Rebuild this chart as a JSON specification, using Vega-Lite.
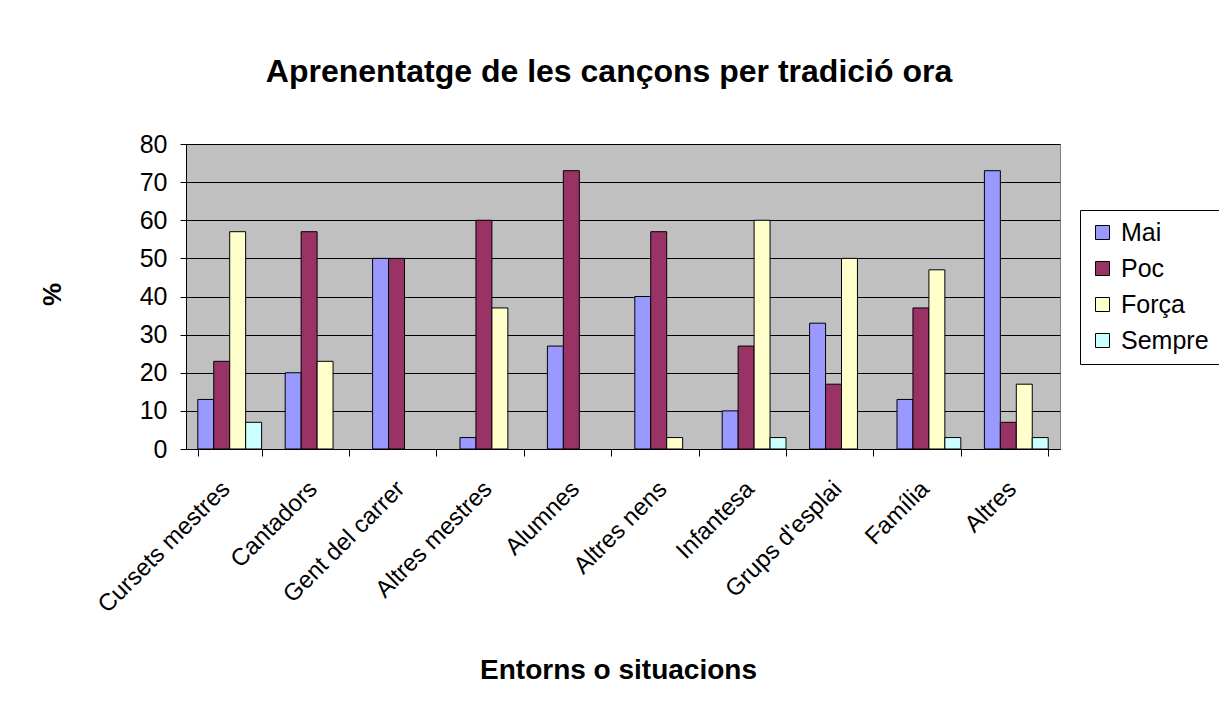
{
  "$schema": "https://vega.github.io/schema/vega-lite/v6.json",
  "autosize": "none",
  "width": 874,
  "height": 305,
  "padding": {"left": 186, "top": 144, "right": 159, "bottom": 260},
  "background": "white",
  "config": {
    "font": "Liberation Sans",
    "view": {"fill": "#C0C0C0", "stroke": "#808080", "strokeWidth": 1}
  },
  "title": {
    "text": "Aprenentatge de les cançons per tradició ora",
    "font": "Liberation Sans",
    "fontSize": 32,
    "fontWeight": "bold",
    "color": "black",
    "anchor": "middle",
    "baseline": "alphabetic",
    "offset": 18,
    "dx": -14
  },
  "data": {
    "values": [
      {"entorn": "Cursets mestres", "serie": "Mai", "valor": 13},
      {"entorn": "Cursets mestres", "serie": "Poc", "valor": 23},
      {"entorn": "Cursets mestres", "serie": "Força", "valor": 57},
      {"entorn": "Cursets mestres", "serie": "Sempre", "valor": 7},
      {"entorn": "Cantadors", "serie": "Mai", "valor": 20},
      {"entorn": "Cantadors", "serie": "Poc", "valor": 57},
      {"entorn": "Cantadors", "serie": "Força", "valor": 23},
      {"entorn": "Gent del carrer", "serie": "Mai", "valor": 50},
      {"entorn": "Gent del carrer", "serie": "Poc", "valor": 50},
      {"entorn": "Altres mestres", "serie": "Mai", "valor": 3},
      {"entorn": "Altres mestres", "serie": "Poc", "valor": 60},
      {"entorn": "Altres mestres", "serie": "Força", "valor": 37},
      {"entorn": "Alumnes", "serie": "Mai", "valor": 27},
      {"entorn": "Alumnes", "serie": "Poc", "valor": 73},
      {"entorn": "Altres nens", "serie": "Mai", "valor": 40},
      {"entorn": "Altres nens", "serie": "Poc", "valor": 57},
      {"entorn": "Altres nens", "serie": "Força", "valor": 3},
      {"entorn": "Infantesa", "serie": "Mai", "valor": 10},
      {"entorn": "Infantesa", "serie": "Poc", "valor": 27},
      {"entorn": "Infantesa", "serie": "Força", "valor": 60},
      {"entorn": "Infantesa", "serie": "Sempre", "valor": 3},
      {"entorn": "Grups d'esplai", "serie": "Mai", "valor": 33},
      {"entorn": "Grups d'esplai", "serie": "Poc", "valor": 17},
      {"entorn": "Grups d'esplai", "serie": "Força", "valor": 50},
      {"entorn": "Família", "serie": "Mai", "valor": 13},
      {"entorn": "Família", "serie": "Poc", "valor": 37},
      {"entorn": "Família", "serie": "Força", "valor": 47},
      {"entorn": "Família", "serie": "Sempre", "valor": 3},
      {"entorn": "Altres", "serie": "Mai", "valor": 73},
      {"entorn": "Altres", "serie": "Poc", "valor": 7},
      {"entorn": "Altres", "serie": "Força", "valor": 17},
      {"entorn": "Altres", "serie": "Sempre", "valor": 3}
    ]
  },
  "mark": {"type": "bar", "stroke": "black", "strokeWidth": 1},
  "encoding": {
    "x": {
      "field": "entorn",
      "type": "nominal",
      "sort": ["Cursets mestres", "Cantadors", "Gent del carrer", "Altres mestres", "Alumnes", "Altres nens", "Infantesa", "Grups d'esplai", "Família", "Altres"],
      "scale": {"paddingInner": 0.27, "paddingOuter": 0.135},
      "axis": {
        "title": "Entorns o situacions",
        "titleFont": "Liberation Sans",
        "titleFontSize": 28,
        "titleFontWeight": "bold",
        "titleColor": "black",
        "titleX": 432,
        "titleY": 221,
        "titleBaseline": "middle",
        "titleAnchor": null,
        "labelAngle": -45,
        "labelAlign": "right",
        "labelBaseline": "middle",
        "labelFontSize": 24,
        "labelColor": "black",
        "labelPadding": 29,
        "labelOffset": -4,
        "tickBand": "extent",
        "tickColor": "black",
        "tickSize": 7,
        "domainColor": "black",
        "grid": false
      }
    },
    "y": {
      "field": "valor",
      "type": "quantitative",
      "scale": {"domain": [0, 80], "nice": false},
      "axis": {
        "title": "%",
        "titleFont": "Liberation Sans",
        "titleFontSize": 26,
        "titleFontWeight": "bold",
        "titleColor": "black",
        "titleX": -134,
        "titleY": 150,
        "titleAngle": -90,
        "titleAlign": "center",
        "titleBaseline": "middle",
        "values": [0, 10, 20, 30, 40, 50, 60, 70, 80],
        "labelFontSize": 25,
        "labelColor": "black",
        "labelPadding": 13,
        "tickColor": "black",
        "tickSize": 6,
        "domainColor": "black",
        "grid": true,
        "gridColor": "black",
        "gridWidth": 1
      }
    },
    "xOffset": {
      "field": "serie",
      "type": "nominal",
      "scale": {"domain": ["Mai", "Poc", "Força", "Sempre"]}
    },
    "color": {
      "field": "serie",
      "type": "nominal",
      "scale": {
        "domain": ["Mai", "Poc", "Força", "Sempre"],
        "range": ["#9999FF", "#993366", "#FFFFCC", "#CCFFFF"]
      },
      "legend": {
        "title": null,
        "orient": "none",
        "legendX": 894,
        "legendY": 66,
        "padding": 10,
        "strokeColor": "black",
        "fillColor": "white",
        "symbolType": "square",
        "symbolSize": 196,
        "symbolStrokeColor": "black",
        "symbolStrokeWidth": 1,
        "symbolOpacity": 1,
        "labelFontSize": 25,
        "labelColor": "black",
        "labelOffset": 6,
        "rowPadding": 10,
        "offset": 0
      }
    }
  }
}
